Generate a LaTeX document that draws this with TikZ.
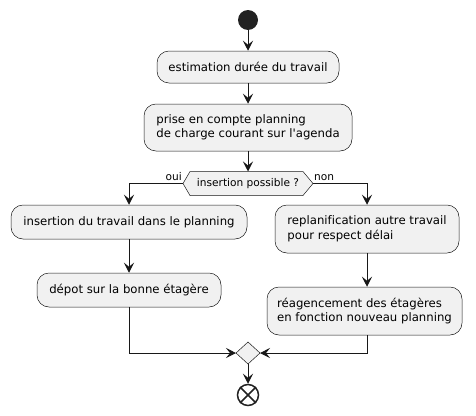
\documentclass[tikz,border=0pt]{standalone}
\usepackage{fontspec}
\setmainfont{DejaVu Sans}[Ligatures=NoCommon]
\usetikzlibrary{arrows.meta}
\definecolor{actfill}{HTML}{F1F1F1}
\definecolor{actline}{HTML}{181818}
\definecolor{startc}{HTML}{222222}
\tikzset{
  act/.style={draw=actline, line width=0.5pt, fill=actfill, rounded corners=12pt,
    inner xsep=10pt, inner ysep=4pt, align=left, font=\fontsize{11.7}{14.5}\selectfont},
  flow/.style={draw=actline, line width=1pt, -{Stealth[length=10pt,width=10pt,inset=4pt]}},
  plain/.style={draw=actline, line width=1pt},
  lbl/.style={font=\fontsize{10.6}{13}\selectfont, inner sep=0pt}
}
\begin{document}
\begin{tikzpicture}[x=1pt,y=-1pt]
\useasboundingbox (0,0) rectangle (476,415);
% start
\node[circle, fill=startc, minimum size=20pt, inner sep=0pt] (start) at (248,20) {};
% activities
\node[act, minimum width=182pt, minimum height=32pt] (b1) at (248,67) {estimation durée du travail};
\node[act, minimum width=208pt, minimum height=47pt] (b2) at (248,127.5) {prise en compte planning\\de charge courant sur l\textquotesingle agenda};
\node[act, minimum width=236pt, minimum height=34pt] (b3) at (129,222) {insertion du travail dans le planning};
\node[act, minimum width=184pt, minimum height=48pt] (b4) at (367,229) {replanification autre travail\\pour respect délai};
\node[act, minimum width=184pt, minimum height=34pt] (b5) at (129,290) {dépot sur la bonne étagère};
\node[act, minimum width=195pt, minimum height=48pt] (b6) at (364.5,311) {réagencement des étagères\\en fonction nouveau planning};
% decision hexagon
\coordinate (dl) at (183,183.5);
\coordinate (dr) at (313,183.5);
\coordinate (dt) at (248,171.5);
\draw[actline, line width=0.5pt, fill=actfill] (dl) -- (190,171.5) -- (303,171.5) -- (dr) -- (303,195.5) -- (190,195.5) -- cycle;
\node[font=\fontsize{10.6}{13}\selectfont, inner sep=0pt] (dec) at (248,183.5) {insertion possible ?};
\node[lbl, anchor=south east] (oui) at (182,181) {oui};
\node[lbl, anchor=south west] (non) at (314,181) {non};
% merge diamond
\coordinate (mt) at (248,342);
\coordinate (ml) at (236,353);
\coordinate (mr) at (260,353);
\coordinate (mb) at (248,364);
\draw[actline, line width=0.5pt, fill=actfill] (mt) -- (mr) -- (mb) -- (ml) -- cycle;
% end
\node[circle, draw=startc, line width=1.5pt, minimum size=21pt, inner sep=0pt] (stop) at (248,395) {};
\draw[startc, line width=1.5pt] (stop.north west) -- (stop.south east) (stop.north east) -- (stop.south west);
% connectors
\draw[flow] (start) -- (b1);
\draw[flow] (b1) -- (b2);
\draw[flow] (b2) -- (dt);
\draw[flow] (dl) -| (b3.north);
\draw[flow] (dr) -| (b4.north);
\draw[flow] (b3) -- (b5);
\draw[flow] (b4.south) -- (b4.south |- b6.north);
\draw[flow] (b5.south) |- (ml);
\draw[flow] (b4.south |- b6.south) |- (mr);
\draw[flow] (mb) -- (stop);
\end{tikzpicture}
\end{document}
